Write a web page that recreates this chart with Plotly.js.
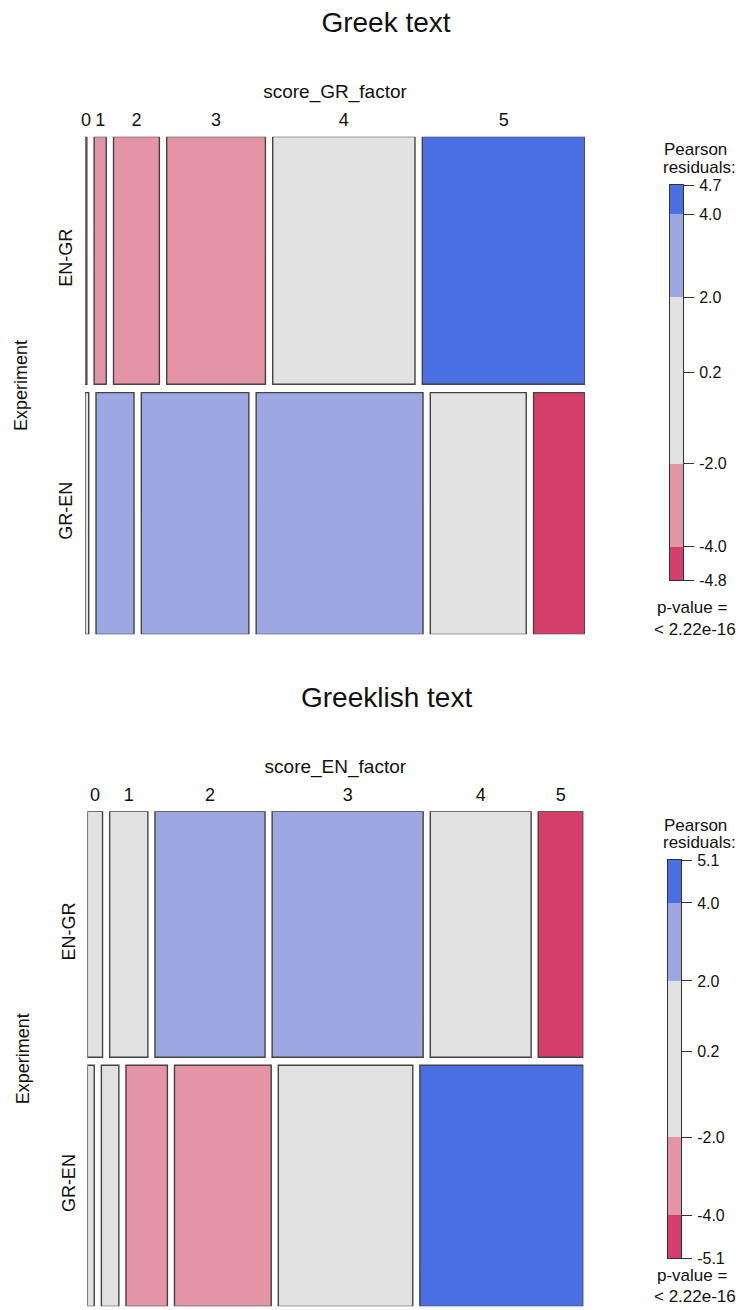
<!DOCTYPE html>
<html><head><meta charset="utf-8">
<script src="https://cdn.plot.ly/plotly-3.0.1.min.js"></script>
<style>html,body{margin:0;padding:0;background:#fff}#chart{width:749px;height:1310px}</style>
</head><body><div id="chart"></div>
<script>
// ---------------- DATA ----------------
const categories = ["0", "1", "2", "3", "4", "5"];
const rows = ["EN-GR", "GR-EN"];

// Panel 1: Greek text (score_GR_factor) - share (%) of each score within each experiment row
const greekShareENGR = [0.4, 2.6, 9.9, 21.3, 30.7, 35.1];
const greekShareGREN = [0.8, 8.2, 23.2, 36.0, 20.7, 11.1];
const greekRowShare = [50.6, 49.4];            // EN-GR, GR-EN
const greekResENGR = [-0.5, -2.3, -3.1, -2.6, 1.9, 4.7];   // Pearson residuals
const greekResGREN = [0.5, 2.3, 3.1, 2.6, -1.9, -4.8];

// Panel 2: Greeklish text (score_EN_factor)
const greeklishShareENGR = [3.3, 8.3, 23.9, 32.8, 21.9, 9.8];
const greeklishShareGREN = [1.5, 3.8, 9.0, 21.0, 29.2, 35.5];
const greeklishRowShare = [50.5, 49.5];
const greeklishResENGR = [1.2, 1.7, 3.5, 2.2, -1.4, -5.1];
const greeklishResGREN = [-1.2, -1.7, -3.5, -2.2, 1.4, 5.1];

const residualCuts = [-4, -2, 2, 4];
const legendMidTick = 0.2;
const pValueText = "< 2.22e-16";
const panelTitles = ["Greek text", "Greeklish text"];
const factorNames = ["score_GR_factor", "score_EN_factor"];
const rowVarName = "Experiment";

// ---------------- HELPERS ----------------
const FONT = "Liberation Sans, Arial, Helvetica, sans-serif";
const W = 749, H = 1310;
const px = v => v / W;
const py = v => 1 - v / H;
const shadeColors = ["#D33F6A", "#E495A5", "#E2E2E2", "#9DA8E2", "#4A6FE3"];
function shade(r) { let k = 0; residualCuts.forEach(c => { if (r > c) k++; }); return shadeColors[k]; }
const norm = a => { const s = a.reduce((u, v) => u + v, 0); return a.map(v => v / s); };

function buildPanel(shares, rowShare, res, gx, gy, xa, ya) {
  const traces = [];
  const rs = norm(rowShare);
  const heights = rs;
  const bases = [rs[1] + gy, 0];
  let centersTop = [];
  shares.forEach((sh, i) => {
    const w = norm(sh);
    const xs = [], ws = [];
    let cur = 0;
    w.forEach(v => { xs.push(cur + v / 2); ws.push(v); cur += v + gx; });
    if (i === 0) centersTop = xs.slice();
    traces.push({
      type: 'bar', x: xs, y: w.map(() => heights[i]), base: w.map(() => bases[i]), width: ws,
      marker: { color: res[i].map(shade), line: { color: '#434343', width: 1.4 } },
      xaxis: xa, yaxis: ya, cliponaxis: false, showlegend: false,
      hovertext: categories.map((c, j) => rows[i] + ', ' + c + ': residual ' + res[i][j]), hoverinfo: 'text'
    });
  });
  return { traces, centersTop, rowCenters: [bases[0] + heights[0] / 2, bases[1] + heights[1] / 2] };
}

function legendTrace(res, xa, ya) {
  const all = res[0].concat(res[1]);
  const mn = Math.min(...all), mx = Math.max(...all);
  const breaks = [mn].concat(residualCuts.filter(c => c > mn && c < mx), [mx]);
  const base = breaks.slice(0, -1);
  const hts = base.map((b, i) => breaks[i + 1] - b);
  const ticks = [mn, -4, -2, legendMidTick, 2, 4, mx];
  return {
    trace: {
      type: 'bar', x: base.map(() => 0), base: base, y: hts, width: base.map(() => 1),
      marker: { color: base.map((b, i) => shade((b + breaks[i + 1]) / 2)), line: { width: 0 } },
      xaxis: xa, yaxis: ya, showlegend: false, hoverinfo: 'skip'
    },
    range: [mn, mx], ticks: ticks
  };
}

// ---------------- GEOMETRY (pixels) ----------------
const P1 = { x0: 85, x1: 585, y0: 136.65, y1: 634.35, gapX: 7.3, gapY: 8.3, lx0: 670, lx1: 683, ly0: 185, ly1: 580 };
const P2 = { x0: 87.35, x1: 583.35, y0: 811.35, y1: 1306.35, gapX: 7.1, gapY: 8.0, lx0: 668, lx1: 681, ly0: 860, ly1: 1258 };
function gaps(P) {
  return { gx: P.gapX / ((P.x1 - P.x0) - 5 * P.gapX), gy: P.gapY / ((P.y1 - P.y0) - P.gapY) };
}
const g1 = gaps(P1), g2 = gaps(P2);

const panel1 = buildPanel([greekShareENGR, greekShareGREN], greekRowShare, [greekResENGR, greekResGREN], g1.gx, g1.gy, 'x', 'y');
const panel2 = buildPanel([greeklishShareENGR, greeklishShareGREN], greeklishRowShare, [greeklishResENGR, greeklishResGREN], g2.gx, g2.gy, 'x3', 'y3');
const leg1 = legendTrace([greekResENGR, greekResGREN], 'x2', 'y2');
const leg2 = legendTrace([greeklishResENGR, greeklishResGREN], 'x4', 'y4');

const data = panel1.traces.concat([leg1.trace], panel2.traces, [leg2.trace]);

function mosaicX(P, g, centers, name, ya) {
  return {
    domain: [px(P.x0), px(P.x1)], range: [0, 1 + 5 * g.gx], side: 'top', anchor: ya,
    showgrid: false, zeroline: false, showline: false, ticks: '',
    tickvals: centers, ticktext: categories, ticklabelstandoff: 6,
    tickfont: { family: FONT, size: 18, color: '#111' },
    title: { text: name, font: { family: FONT, size: 19, color: '#111' }, standoff: 6 },
    fixedrange: true
  };
}
function mosaicY(P, g, centers, xa) {
  return {
    domain: [py(P.y1), py(P.y0)], range: [0, 1 + g.gy], anchor: xa,
    showgrid: false, zeroline: false, showline: false, ticks: '',
    tickvals: centers, ticktext: rows, tickangle: -90, ticklabelstandoff: 8,
    tickfont: { family: FONT, size: 18, color: '#111' },
    title: { text: rowVarName, font: { family: FONT, size: 18, color: '#111' }, standoff: 24 },
    fixedrange: true
  };
}
function legX(P, ya) {
  return { domain: [px(P.lx0), px(P.lx1)], range: [-0.5, 0.5], anchor: ya, showgrid: false, zeroline: false,
    showline: true, mirror: true, linecolor: '#333', linewidth: 1, ticks: '', showticklabels: false, fixedrange: true };
}
function legY(P, L, xa) {
  return { domain: [py(P.ly1), py(P.ly0)], range: L.range, anchor: xa, side: 'right', showgrid: false, zeroline: false,
    showline: true, mirror: true, linecolor: '#333', linewidth: 1, ticks: 'outside', ticklen: 10, tickwidth: 1, tickcolor: '#333',
    tickvals: L.ticks, ticktext: L.ticks.map(v => v.toFixed(1)), ticklabelstandoff: 2,
    tickfont: { family: FONT, size: 16, color: '#111' }, fixedrange: true };
}

function legendText(yPearson, yPval) {
  const base = { xref: 'paper', yref: 'paper', showarrow: false, xanchor: 'left', yanchor: 'middle', font: { family: FONT, size: 17, color: '#111' } };
  return [
    Object.assign({}, base, { x: px(662), y: py(yPearson), text: 'Pearson' }),
    Object.assign({}, base, { x: px(661), y: py(yPearson + 18), text: 'residuals:' }),
    Object.assign({}, base, { x: px(655), y: py(yPval), text: 'p-value =' }),
    Object.assign({}, base, { x: px(652), y: py(yPval + 21), text: pValueText.replace('<', '&lt;') })
  ];
}

const layout = {
  width: W, height: H, margin: { l: 0, r: 0, t: 0, b: 0 }, paper_bgcolor: '#fff', plot_bgcolor: 'rgba(0,0,0,0)',
  barmode: 'overlay', bargap: 0, showlegend: false,
  font: { family: FONT, color: '#111' },
  title: { text: panelTitles[0], font: { family: FONT, size: 28, color: '#111' }, x: px(386), xanchor: 'center', y: py(22), yanchor: 'middle', xref: 'paper', yref: 'container' },
  xaxis: mosaicX(P1, g1, panel1.centersTop, factorNames[0], 'y'),
  yaxis: mosaicY(P1, g1, panel1.rowCenters, 'x'),
  xaxis2: legX(P1, 'y2'),
  yaxis2: legY(P1, leg1, 'x2'),
  xaxis3: mosaicX(P2, g2, panel2.centersTop, factorNames[1], 'y3'),
  yaxis3: mosaicY(P2, g2, panel2.rowCenters, 'x3'),
  xaxis4: legX(P2, 'y4'),
  yaxis4: legY(P2, leg2, 'x4'),
  annotations: [
    { xref: 'paper', yref: 'paper', x: px(386), y: py(697), xanchor: 'center', yanchor: 'middle', showarrow: false,
      text: panelTitles[1], font: { family: FONT, size: 28, color: '#111' } }
  ].concat(legendText(149, 608), legendText(825, 1275))
};

Plotly.newPlot('chart', data, layout, { displayModeBar: false, staticPlot: true });
</script>
</body></html>
